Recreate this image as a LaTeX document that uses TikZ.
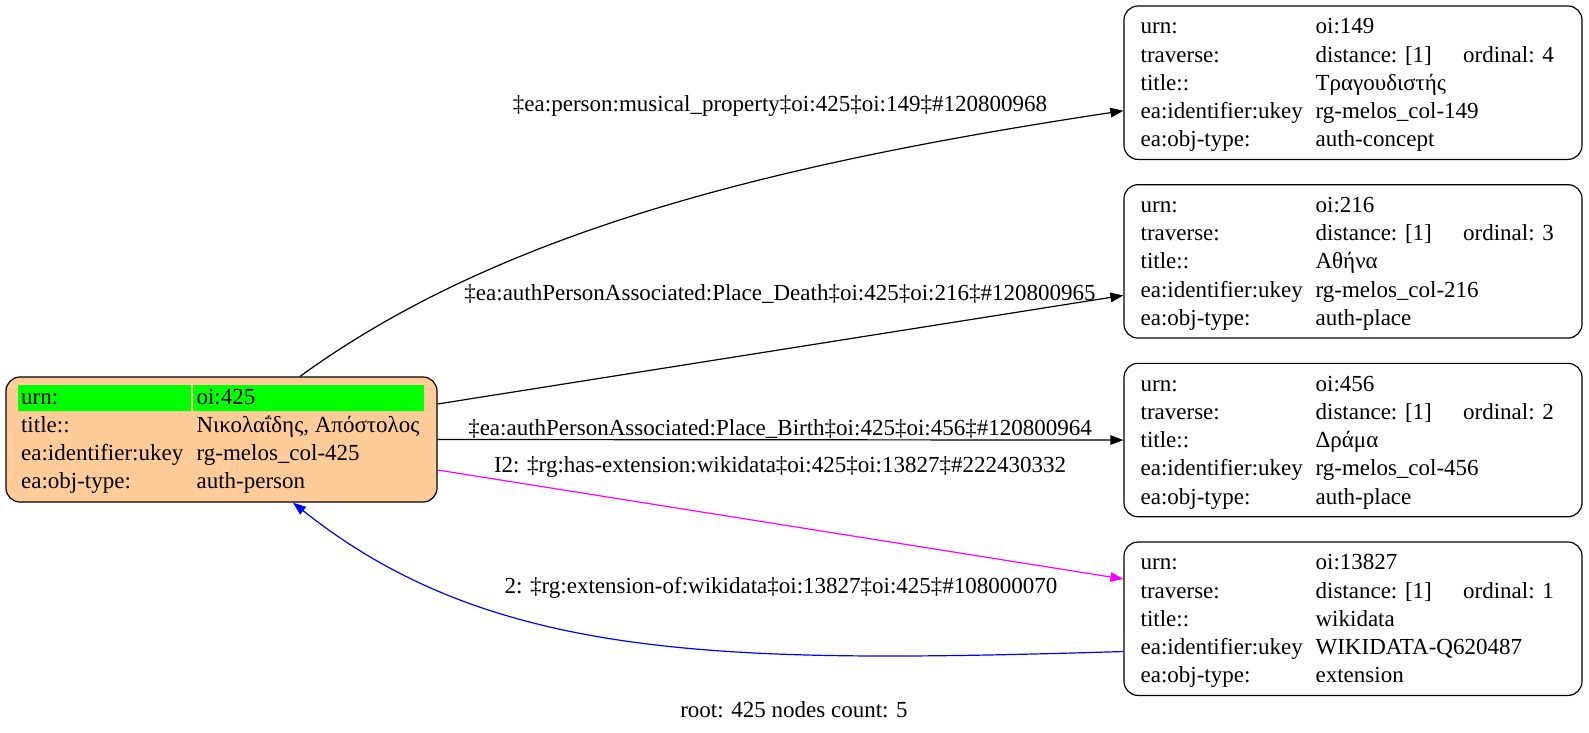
\documentclass[tikz,border=0pt]{standalone}
\usepackage{fontspec}
\setmainfont{Liberation Serif}
\usetikzlibrary{calc,arrows.meta}
\definecolor{peach}{HTML}{FFCC99}
\definecolor{rootgreen}{HTML}{00FF00}
\definecolor{extmagenta}{HTML}{FF00FF}
\definecolor{ofblue}{HTML}{0000FF}

\begin{document}
\begin{tikzpicture}[x=1pt,y=-1pt,
    box/.style={draw,line width=1.2pt,rounded corners=14pt,minimum width=458pt,minimum height=153.4pt},
    txt/.style={anchor=base west,inner sep=0pt,font=\fontsize{23}{28}\selectfont},
    lbl/.style={anchor=base,inner sep=0pt,font=\fontsize{23}{28}\selectfont},
    edge/.style={line width=1.2pt,-{Triangle[length=13pt,width=9.5pt]}}]
  \useasboundingbox (0,0) rectangle (1589,732);
  % root node
  \node[box,fill=peach,minimum width=431pt,minimum height=125pt] (root) at (221.5,439.5) {};
  \fill[rootgreen] (18,385) rectangle (191,411) (193,385) rectangle (424,411);
  \foreach \k/\v [count=\i from 0] in {urn:/oi:425, title::/{Νικολαΐδης, Απόστολος},
      ea:identifier:ukey/rg-melos\_col-425, ea:obj-type:/auth-person} {
    \node[txt] (r\i a) at ($(root.north west)+(15.5,28+28*\i)$) {\k};
    \node[txt] (r\i b) at ($(root.north west)+(191,28+28*\i)$) {\v};
  }
  % linked nodes
  \foreach \nm/\ord/\ttl/\typ [count=\j from 0] in {149/4/Τραγουδιστής/auth-concept,
      216/3/Αθήνα/auth-place, 456/2/Δράμα/auth-place, 13827/1/wikidata/extension} {
    \node[box] (n\nm) at (1353,82.7+178.67*\j) {};
    \ifnum\nm=13827 \def\uk{WIKIDATA-Q620487}\else \def\uk{rg-melos\_col-\nm}\fi
    \foreach \k/\v [count=\i from 0] in {urn:/oi:\nm, traverse:/{distance: [1]}, title::/\ttl,
        ea:identifier:ukey/\uk, ea:obj-type:/\typ} {
      \node[txt] (t\nm-\i a) at ($(n\nm.north west)+(17,28.5+28.2*\i)$) {\k};
      \node[txt] (t\nm-\i b) at ($(n\nm.north west)+(192,28.5+28.2*\i)$) {\v};
    }
    \node[txt] (o\nm) at ($(n\nm.north west)+(339.5,56.7)$) {ordinal: \ord};
  }
  % edges
  \draw[edge] ($(root.north)+(78.5,0)$) .. controls (500,231) and (774,163.5) .. ($(n149.west)+(0,28)$);
  \draw[edge] ($(root.east)+(0,-35.5)$) -- ($(n216.west)+(0,34)$);
  \draw[edge] (root.east) -- (n456.west);
  \draw[edge,extmagenta] ($(root.east)+(0,30.5)$) -- ($(n13827.west)+(0,-39.7)$);
  \draw[edge,ofblue] ($(n13827.west)+(0,32.8)$) .. controls (724,663.5) and (493,662) .. ($(root.south)+(71.5,0)$);
  % edge labels
  \node[lbl] (l149) at (780,111) {‡ea:person:musical\_property‡oi:425‡oi:149‡\#120800968};
  \node[lbl] (l216) at (780,300) {‡ea:authPersonAssociated:Place\_Death‡oi:425‡oi:216‡\#120800965};
  \node[lbl] (l456) at (780,435) {‡ea:authPersonAssociated:Place\_Birth‡oi:425‡oi:456‡\#120800964};
  \node[lbl] (lext) at (780,472) {I2: ‡rg:has-extension:wikidata‡oi:425‡oi:13827‡\#222430332};
  \node[lbl] (lof) at (781,593) {2: ‡rg:extension-of:wikidata‡oi:13827‡oi:425‡\#108000070};
  \node[lbl] (rootlbl) at (794,717) {root: 425 nodes count: 5};
\end{tikzpicture}
\end{document}
